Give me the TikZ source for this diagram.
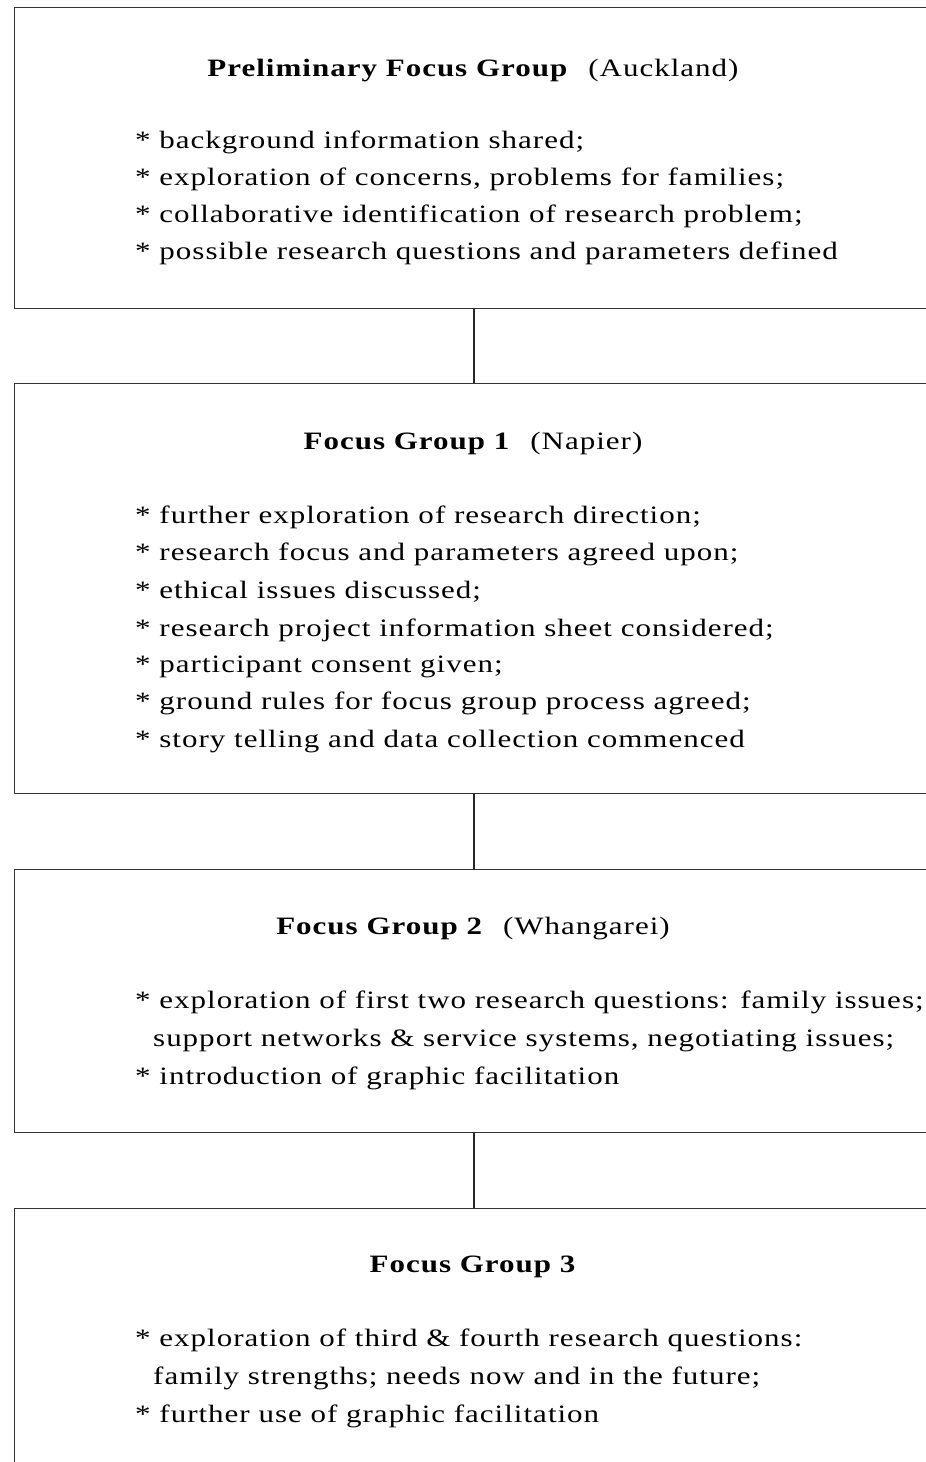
\documentclass[tikz,border=0pt]{standalone}
\usepackage{fontspec}
\setmainfont{Liberation Serif}[FakeStretch=1.24,LetterSpace=4]
\begin{document}
\begin{tikzpicture}[x=1pt,y=-1pt,
  box/.style={draw=black!80, line width=1.4pt, rectangle, inner sep=0pt, anchor=north west, minimum width=918pt},
  ttl/.style={anchor=base, inner sep=0pt, font=\fontsize{25}{30}\selectfont},
  ln/.style={anchor=base west, inner sep=0pt, font=\fontsize{25}{30}\selectfont},
  link/.style={draw=black!85, line width=1.6pt}]
\useasboundingbox (0,0) rectangle (926,1462);
\node[box, minimum height=301pt] (b1) at (14,7) {};
\node[box, minimum height=410pt] (b2) at (14,383) {};
\node[box, minimum height=263pt] (b3) at (14,869) {};
\node[box, minimum height=300pt] (b4) at (14,1208) {};
\draw[link] (b1.south) -- (b2.north);
\draw[link] (b2.south) -- (b3.north);
\draw[link] (b3.south) -- (b4.north);
% box 1
\node[ttl] (t1) at (473,76) {\textbf{Preliminary Focus Group}\hspace{20pt}(Auckland)};
\node[ln] (l11) at (135,148) {* background information shared;};
\node[ln] (l12) at (135,185) {* exploration of concerns, problems for families;};
\node[ln] (l13) at (135,222) {* collaborative identification of research problem;};
\node[ln] (l14) at (135,259) {* possible research questions and parameters defined};
% box 2
\node[ttl] (t2) at (473,449) {\textbf{Focus Group 1}\hspace{20pt}(Napier)};
\node[ln] (l21) at (135,523) {* further exploration of research direction;};
\node[ln] (l22) at (135,560) {* research focus and parameters agreed upon;};
\node[ln] (l23) at (135,598) {* ethical issues discussed;};
\node[ln] (l24) at (135,636) {* research project information sheet considered;};
\node[ln] (l25) at (135,672) {* participant consent given;};
\node[ln] (l26) at (135,709) {* ground rules for focus group process agreed;};
\node[ln] (l27) at (135,747) {* story telling and data collection commenced};
% box 3
\node[ttl] (t3) at (473,934) {\textbf{Focus Group 2}\hspace{20pt}(Whangarei)};
\node[ln] (l31) at (135,1008) {* exploration of first two research questions: family issues;};
\node[ln] (l32) at (153,1046) {support networks \& service systems, negotiating issues;};
\node[ln] (l33) at (135,1084) {* introduction of graphic facilitation};
% box 4
\node[ttl] (t4) at (473,1272) {\textbf{Focus Group 3}};
\node[ln] (l41) at (135,1346) {* exploration of third \& fourth research questions:};
\node[ln] (l42) at (153,1384) {family strengths; needs now and in the future;};
\node[ln] (l43) at (135,1422) {* further use of graphic facilitation};
\end{tikzpicture}
\end{document}
